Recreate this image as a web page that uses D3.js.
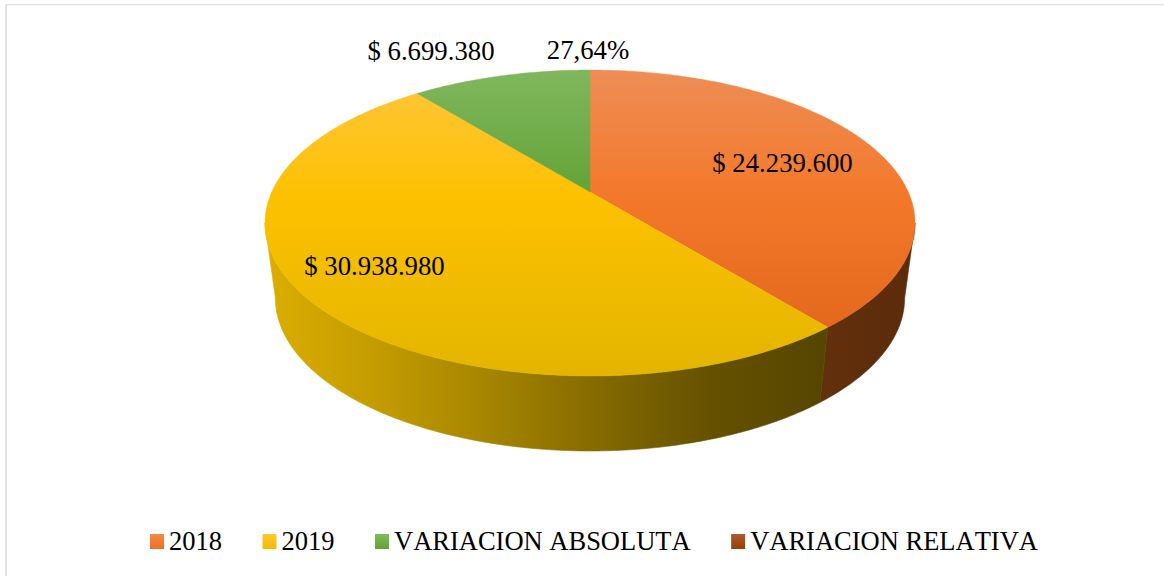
<!DOCTYPE html>
<html lang="en">
<head>
<meta charset="UTF-8">
<title>Variacion 2018 - 2019</title>
<script src="https://cdn.jsdelivr.net/npm/d3@7/dist/d3.min.js"></script>
<style>
    html, body { margin: 0; padding: 0; background: #fff; }
    svg { display: block; }
    text { font-family: "Liberation Serif", serif; font-size: 26.75px; fill: #000; font-kerning: none; }
    text.legend { font-size: 26.5px; }
</style>
</head>
<body>
<script>
    var categories = ["2018", "2019", "VARIACION ABSOLUTA", "VARIACION RELATIVA"]
    var values = [24239600, 30938980, 6699380, 0.2764]
    var valueLabels = ["$ 24.239.600", "$ 30.938.980", "$ 6.699.380", "27,64%"]

    var width = 1164, height = 576
    var svg = d3.select("body").append("svg").attr("width", width).attr("height", height)
    var defs = svg.append("defs")

    // marco del grafico
    svg.append("rect").attr("x", 5).attr("y", 4).attr("width", 2).attr("height", height - 4).attr("fill", "#dfe3ee")
    svg.append("rect").attr("x", 5).attr("y", 4).attr("width", width - 5).attr("height", 1.3).attr("fill", "#dfe3ee")

    // pie en perspectiva: centro y forma
    var cx = 590, cy = 192, a = 318.3, b = 146.7, k = 0.2026
    var depth = 75, lowerScale = 0.968

    function project(angle) {
        var x = Math.sin(angle), y = -Math.cos(angle), w = 1 - k * y
        return [cx + a * x / w, cy + b * y / w]
    }
    function lower(angle) {
        var p = project(angle)
        return [cx + (p[0] - cx) * lowerScale, p[1] + depth]
    }

    var slices = d3.pie().sort(null)(values)
    var line = d3.line()

    function arcPoints(fn, from, to) {
        var n = Math.max(2, Math.ceil(Math.abs(to - from) / 0.01))
        return d3.range(n + 1).map(function(i) { return fn(from + (to - from) * i / n) })
    }

    // degradados
    var faceStops = [
        ["#ee8d55", "#f3782a", "#de6318"],
        ["#fec63e", "#fdc100", "#e3b500"],
        ["#80b75d", "#62a235", "#5f9f31"],
        ["#b0623a", "#9e480e", "#8c3e0a"]
    ]
    var stopAt = [0, 0.42, 1]
    faceStops.forEach(function(colors, i) {
        var g = defs.append("linearGradient")
            .attr("id", "face" + i)
            .attr("gradientUnits", "userSpaceOnUse")
            .attr("x1", 0).attr("x2", 0).attr("y1", 70).attr("y2", 376)
        colors.forEach(function(c, j) {
            g.append("stop").attr("offset", stopAt[j]).attr("stop-color", c)
        })
    })

    var wallStops = [
        ["#62300c", "#5c2b0a"],
        ["#dcae00", "#c49c00", "#a58500", "#856a00", "#655100", "#574600"],
        ["#5a8a33", "#3e6122"],
        ["#6a3410", "#5e2c0a"]
    ]
    wallStops.forEach(function(colors, i) {
        var g = defs.append("linearGradient")
            .attr("id", "wall" + i)
            .attr("gradientUnits", "userSpaceOnUse")
            .attr("x1", i == 0 ? 825 : 265).attr("x2", i == 0 ? 915 : 820)
            .attr("y1", 0).attr("y2", 0)
        colors.forEach(function(c, j) {
            g.append("stop").attr("offset", j / (colors.length - 1)).attr("stop-color", c)
        })
    })

    // pared lateral, solo la parte visible de cada porcion
    var tangent = Math.acos(-k)
    slices.forEach(function(s, i) {
        var from = Math.max(s.startAngle, tangent)
        var to = Math.min(s.endAngle, 2 * Math.PI - tangent)
        if (to <= from) return
        var pts = arcPoints(project, from, to).concat(arcPoints(lower, to, from))
        svg.append("path")
            .attr("d", line(pts) + "Z")
            .attr("fill", "url(#wall" + i + ")")
            .attr("stroke", "url(#wall" + i + ")")
            .attr("stroke-width", 0.6)
    })

    // cara superior; la porcion relativa es casi nula, sin borde para que no se vea una raya
    svg.selectAll("path.face")
        .data(slices)
        .enter()
        .append("path")
        .attr("class", "face")
        .attr("d", function(s) {
            return line([[cx, cy]].concat(arcPoints(project, s.startAngle, s.endAngle))) + "Z"
        })
        .attr("fill", function(s, i) { return "url(#face" + i + ")" })
        .attr("stroke", function(s, i) { return i == 3 ? "none" : "url(#face" + i + ")" })
        .attr("stroke-width", 0.4)

    // etiquetas de datos
    var labelCenters = [[782.5, 172], [374.5, 275], [431, 60], [588, 59]]
    svg.selectAll("text.label")
        .data(valueLabels)
        .enter()
        .append("text")
        .attr("class", "label")
        .attr("text-anchor", "middle")
        .attr("x", function(d, i) { return labelCenters[i][0] })
        .attr("y", function(d, i) { return labelCenters[i][1] })
        .text(function(d) { return d })

    // leyenda
    var legendColors = [
        ["#f58a45", "#ee6f1f"],
        ["#fec832", "#f4bb00"],
        ["#80b95c", "#64a334"],
        ["#ab5a30", "#973f05"]
    ]
    var lx = 150
    categories.forEach(function(name, i) {
        var g = defs.append("linearGradient")
            .attr("id", "leg" + i)
            .attr("x1", 0).attr("x2", 0).attr("y1", 0).attr("y2", 1)
        g.append("stop").attr("offset", 0).attr("stop-color", legendColors[i][0])
        g.append("stop").attr("offset", 1).attr("stop-color", legendColors[i][1])
        svg.append("rect")
            .attr("x", lx).attr("y", 534)
            .attr("width", 14).attr("height", 15)
            .attr("fill", "url(#leg" + i + ")")
        var t = svg.append("text")
            .attr("class", "legend")
            .attr("x", lx + 19).attr("y", 550)
            .text(name)
        lx += 19 + t.node().getComputedTextLength() + 40.5
    })
</script>
</body>
</html>
